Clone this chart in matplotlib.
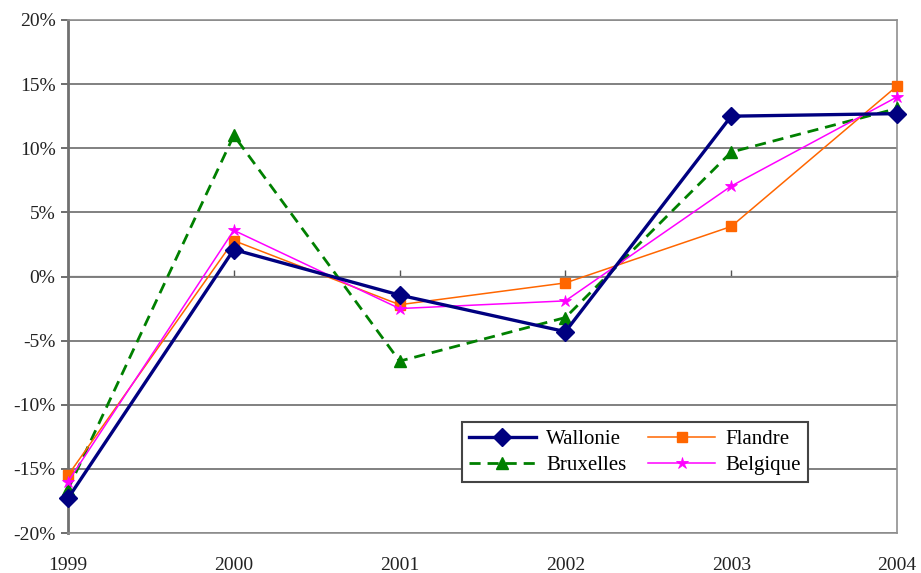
import matplotlib
matplotlib.use("Agg")
import matplotlib.pyplot as plt
from matplotlib.ticker import FuncFormatter

years = ["1999", "2000", "2001", "2002", "2003", "2004"]
wallonie = [-17.3, 2.1, -1.45, -4.3, 12.5, 12.7]
flandre = [-15.5, 2.8, -2.2, -0.5, 3.9, 14.85]
bruxelles = [-16.6, 11.0, -6.6, -3.2, 9.7, 13.1]
belgique = [-16.0, 3.6, -2.5, -1.9, 7.05, 14.0]

plt.rcParams["font.family"] = ["Liberation Serif", "DejaVu Serif"]

fig = plt.figure(figsize=(9.21, 5.73), dpi=100)
ax = fig.add_axes([68 / 921, 1 - 533 / 573, (897 - 68) / 921, (533 - 20) / 573])

x = list(range(len(years)))
h_w, = ax.plot(x, wallonie, color="#000080", lw=2.4, marker="D", ms=9,
               label="Wallonie", zorder=5, clip_on=False)
h_f, = ax.plot(x, flandre, color="#FF6600", lw=1.1, marker="s", ms=7,
               label="Flandre", zorder=4, clip_on=False)
h_b, = ax.plot(x, bruxelles, color="#008000", lw=2.0, ls=(0, (4, 2.5)),
               marker="^", ms=8, label="Bruxelles", zorder=3, clip_on=False)
h_be, = ax.plot(x, belgique, color="#FF00FF", lw=1.1, marker="*", ms=9,
                markeredgewidth=0.6, label="Belgique", zorder=4, clip_on=False)

ax.set_xlim(0, len(years) - 1)
ax.set_ylim(-20, 20)
ax.set_yticks(range(-20, 21, 5))
ax.yaxis.set_major_formatter(FuncFormatter(lambda v, p: f"{int(v)}%"))
ax.set_xticks(x)
ax.set_xticklabels(years)
ax.tick_params(axis="x", length=0, pad=17, labelsize=14, colors="#222222")
ax.tick_params(axis="y", length=5, width=1.2, color="#555555", labelsize=14,
               labelcolor="#222222", pad=4)

ax.grid(axis="y", color="#808080", lw=1.4)
ax.set_axisbelow(True)
for side in ["top", "bottom", "right"]:
    ax.spines[side].set_color("#909090")
    ax.spines[side].set_linewidth(1.2)
ax.spines["left"].set_color("#707070")
ax.spines["left"].set_linewidth(2.0)

# category axis crossing at 0%
sec = ax.secondary_xaxis(0.5)
sec.set_xticks(x)
sec.set_xticklabels([])
sec.tick_params(length=4, width=1.0, color="#555555", direction="out")
sec.spines["bottom"].set_visible(False)

# row-wise order: Wallonie, Flandre / Bruxelles, Belgique
leg = ax.legend([h_w, h_b, h_f, h_be], ["Wallonie", "Bruxelles", "Flandre", "Belgique"],
                ncol=2, loc="lower left",
                bbox_to_anchor=(0.475, 0.099, 0.418, 0.121),
                mode="expand", fontsize=15, frameon=True, fancybox=False,
                edgecolor="#444444", framealpha=1, handlelength=3.2,
                borderpad=0.35, labelspacing=0.3, columnspacing=0.8,
                handletextpad=0.5, borderaxespad=0)
leg.get_frame().set_linewidth(1.5)
leg.set_zorder(10)

fig.savefig("out.png", dpi=100)
